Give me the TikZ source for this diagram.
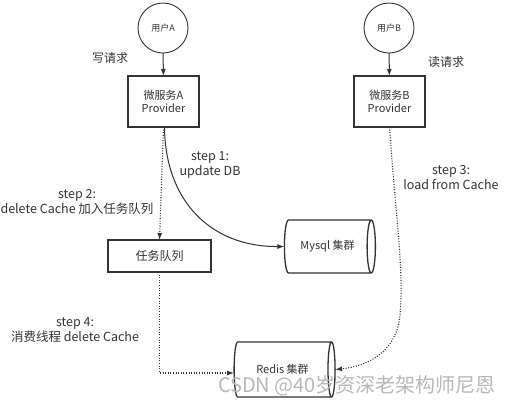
\documentclass[tikz,border=0pt]{standalone}
\usepackage{fontspec}
\setmainfont{Noto Sans CJK SC}
\usetikzlibrary{shapes.geometric,arrows.meta}
\definecolor{ink}{HTML}{333333}
\definecolor{wm}{HTML}{B8B8B8}
\begin{document}
\begin{tikzpicture}[x=1pt,y=-1pt,
  every node/.style={text=ink, inner sep=0pt, outer sep=0pt},
  user/.style={circle,draw=ink,line width=0.9pt,minimum size=50pt,font=\fontsize{9}{10}\selectfont},
  svc/.style={rectangle,draw=ink,line width=1.5pt,minimum width=71pt,minimum height=51pt,align=center,font=\fontsize{11}{13}\selectfont},
  queue/.style={rectangle,draw=ink,line width=1.5pt,minimum width=103pt,minimum height=32pt,font=\fontsize{12}{14}\selectfont},
  db/.style={cylinder,draw=ink,line width=1.3pt,shape aspect=0.7,font=\fontsize{11}{13}\selectfont},
  lbl/.style={align=center,font=\fontsize{12.5}{15}\selectfont},
  tag/.style={font=\fontsize{12}{14}\selectfont},
  solidarrow/.style={draw=ink,line width=1pt,-{Latex[length=7pt,width=5pt]}},
  dotarrow/.style={draw=ink,line width=1.1pt,dash pattern=on 1pt off 1.6pt,-{Latex[length=7pt,width=5pt]}},
]
\useasboundingbox (0,0) rectangle (511,405);
\node[user] (uA) at (163,28) {用户A};
\node[user] (uB) at (389,28) {用户B};
\node[svc] (sA) at (163.5,101.5) {微服务A\\Provider};
\node[svc] (sB) at (389.5,101.5) {微服务B\\Provider};
\node[queue] (q) at (159.5,256) {任务队列};
\node[db, minimum width=53pt, minimum height=91pt] (mysql) at (327.5,246.5) {Mysql 集群};
\node[db, minimum width=55pt, minimum height=101pt] (redis) at (282.5,369.5) {Redis 集群};

\node[tag] (t1) at (110,58) {写请求};
\node[tag] (t2) at (446,62) {读请求};
\node[lbl] (s1) at (210,164.5) {step 1:\\update DB};
\node[lbl] (s2) at (77,201.5) {step 2:\\delete Cache 加入任务队列};
\node[lbl] (s3) at (451,177.5) {step 3:\\load from Cache};
\node[lbl] (s4) at (75,330.5) {step 4:\\消费线程 delete Cache};

\draw[solidarrow] (uA) -- (sA);
\draw[solidarrow] (uB) -- (sB);
\draw[dotarrow] (sA.south) -- (q.north);
\draw[solidarrow] ([xshift=1pt]sA.south) .. controls (165,200) and (210,247) .. (mysql.west);
\draw[dotarrow] (q.south) |- ([yshift=-3.5pt]redis.west);
\draw[dotarrow] (sB.south) .. controls (396,220) and (404,270) .. (400,315) .. controls (397,350) and (370,366) .. (redis.east);

\node[text=wm, font=\fontsize{20}{22}\selectfont] (wmk) at (357,386) {CSDN @40岁资深老架构师尼恩};
\end{tikzpicture}
\end{document}
